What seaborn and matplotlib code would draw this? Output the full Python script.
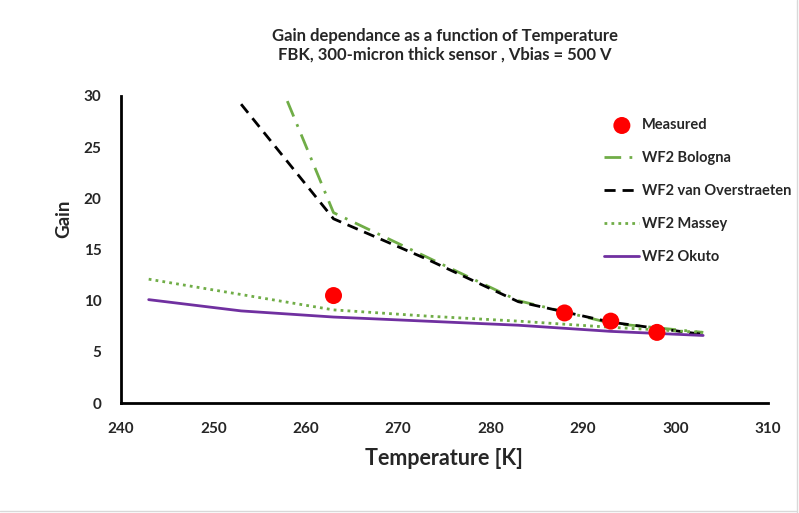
import pandas as pd
import numpy as np
import matplotlib.pyplot as plt
import seaborn as sns

# Measured gain
meas_T = [263, 288, 293, 298]
meas_gain = [10.5, 8.8, 8.0, 6.9]

# Model curves
bologna_T = [258, 263, 273, 283, 293, 303]
bologna_gain = [29.5, 18.6, 14.3, 10.0, 7.8, 6.9]

vo_T = [253, 263, 273, 283, 293, 303]
vo_gain = [29.2, 18.0, 14.1, 9.9, 7.9, 6.7]

massey_T = [243, 253, 263, 273, 283, 293, 303]
massey_gain = [12.1, 10.6, 9.1, 8.5, 8.0, 7.4, 6.9]

okuto_T = [243, 253, 263, 273, 283, 293, 303]
okuto_gain = [10.1, 9.0, 8.4, 8.0, 7.6, 7.0, 6.6]

sns.set_style('white')
plt.rcParams['font.family'] = ['Lato', 'DejaVu Sans']

fig = plt.figure(figsize=(7.99, 5.13), dpi=100)
ax = fig.add_axes([0.1514, 0.2144, 0.8096, 0.5985])

green = '#70ad47'
sns.scatterplot(x=meas_T, y=meas_gain, color='#ff0000', s=150, edgecolor='none',
                ax=ax, label='Measured', zorder=5)
sns.lineplot(x=bologna_T, y=bologna_gain, color=green, lw=2, linestyle=(0, (6, 3, 1, 3)),
             ax=ax, label='WF2 Bologna', sort=False)
sns.lineplot(x=vo_T, y=vo_gain, color='black', lw=2, linestyle=(0, (4, 2.5)),
             ax=ax, label='WF2 van Overstraeten', sort=False)
sns.lineplot(x=massey_T, y=massey_gain, color=green, lw=2, linestyle=(0, (1, 1.5)),
             ax=ax, label='WF2 Massey', sort=False)
sns.lineplot(x=okuto_T, y=okuto_gain, color='#7030a0', lw=2,
             ax=ax, label='WF2 Okuto', sort=False)

ax.set_xlim(240, 310)
ax.set_ylim(0, 30)
ax.set_xticks(np.arange(240, 311, 10))
ax.set_yticks(np.arange(0, 31, 5))
ax.tick_params(axis='both', length=0, labelsize=11)
ax.tick_params(axis='x', pad=14)
ax.tick_params(axis='y', pad=14)
for lab in ax.get_xticklabels() + ax.get_yticklabels():
    lab.set_fontweight('bold')

for s in ['top', 'right']:
    ax.spines[s].set_visible(False)
for s in ['left', 'bottom']:
    ax.spines[s].set_color('black')
    ax.spines[s].set_linewidth(2)

ax.set_xlabel('Temperature [K]', fontsize=15.5, fontweight='bold', labelpad=8)
ax.set_ylabel('Gain', fontsize=13.5, fontweight='bold')
ax.yaxis.set_label_coords(-0.076, 0.60)

fig.text(0.557, 0.912, 'Gain dependance as a function of Temperature\nFBK, 300-micron thick sensor , Vbias = 500 V',
         ha='center', va='center', fontsize=12, fontweight='bold', linespacing=1.2)

leg = ax.legend(loc='upper left', bbox_to_anchor=(0.727, 0.97), frameon=False,
                labelspacing=1.3, handlelength=2.4, handletextpad=0.2, fontsize=10.5)
for t in leg.get_texts():
    t.set_fontweight('bold')

fig.add_artist(plt.Line2D([0.997, 0.997], [0.0, 1.0], transform=fig.transFigure,
                          color='#d9d9d9', lw=1))
fig.add_artist(plt.Line2D([0.0, 0.997], [0.004, 0.004], transform=fig.transFigure,
                          color='#d9d9d9', lw=1))

fig.savefig('out.png', dpi=100)
